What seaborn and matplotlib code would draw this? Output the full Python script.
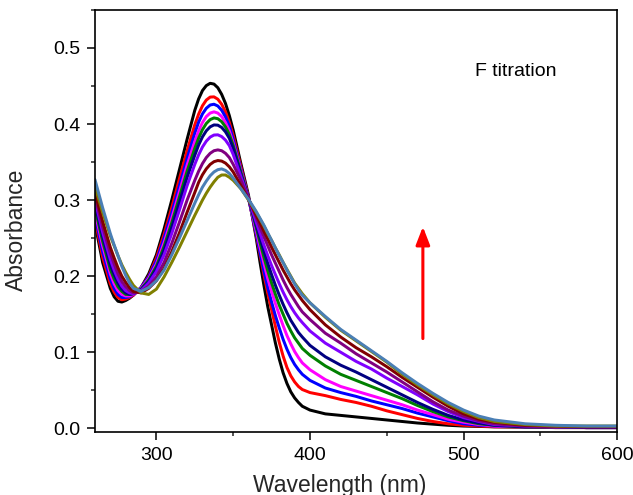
import numpy as np
import pandas as pd
import matplotlib
matplotlib.use("Agg")
import matplotlib.pyplot as plt
import seaborn as sns
from matplotlib.ticker import MultipleLocator

wavelength = [260, 265, 270, 272.5, 275, 277.5, 280, 282.5, 285, 290, 295, 300, 305, 310, 315, 320,
              325, 327.5, 330, 332.5, 335, 337.5, 340, 342.5, 345, 347.5, 350, 355, 360,
              365, 367.5, 370, 372.5, 375, 377.5, 380, 382.5, 385, 387.5, 390, 392.5, 395, 400,
              410, 420, 430, 440, 450, 460, 470, 480, 490, 500, 510, 520, 540, 560, 580, 600]

abs_black = [0.270, 0.218, 0.184, 0.173, 0.167, 0.166, 0.168, 0.171, 0.175, 0.185, 0.203, 0.228, 0.262, 0.300, 0.340, 0.380,
             0.418, 0.433, 0.444, 0.4505, 0.4535, 0.4525, 0.4477, 0.439, 0.427, 0.411, 0.392, 0.348, 0.306,
             0.250, 0.218, 0.188, 0.160, 0.136, 0.112, 0.091, 0.073, 0.059, 0.048, 0.040, 0.034, 0.029, 0.024,
             0.019, 0.017, 0.015, 0.013, 0.011, 0.009, 0.007, 0.0055, 0.004, 0.003, 0.0025, 0.002, 0.0015, 0.001, 0.001, 0.001]
abs_red = [0.275, 0.225, 0.190, 0.179, 0.172, 0.169, 0.170, 0.172, 0.175, 0.185, 0.200, 0.224, 0.255, 0.290, 0.328, 0.365,
           0.399, 0.413, 0.424, 0.4315, 0.4354, 0.4357, 0.4326, 0.426, 0.416, 0.402, 0.385, 0.344, 0.303,
           0.254, 0.228, 0.202, 0.178, 0.156, 0.134, 0.113, 0.095, 0.080, 0.069, 0.061, 0.055, 0.051, 0.047,
           0.043, 0.038, 0.034, 0.029, 0.023, 0.018, 0.013, 0.009, 0.006, 0.004, 0.003, 0.002, 0.002, 0.001, 0.001, 0.001]
abs_blue = [0.280, 0.232, 0.196, 0.184, 0.176, 0.172, 0.172, 0.173, 0.176, 0.185, 0.199, 0.220, 0.250, 0.283, 0.319, 0.355,
            0.388, 0.4025, 0.4133, 0.4207, 0.425, 0.426, 0.4237, 0.4181, 0.4094, 0.3973, 0.380, 0.341, 0.302,
            0.256, 0.231, 0.207, 0.185, 0.166, 0.148, 0.132, 0.117, 0.104, 0.093, 0.084, 0.077, 0.071, 0.063,
            0.053, 0.047, 0.042, 0.036, 0.031, 0.026, 0.020, 0.015, 0.010, 0.006, 0.004, 0.003, 0.002, 0.002, 0.001, 0.001]
abs_magenta = [0.285, 0.240, 0.203, 0.190, 0.181, 0.176, 0.174, 0.174, 0.176, 0.184, 0.197, 0.216, 0.244, 0.276, 0.311, 0.346,
               0.377, 0.391, 0.402, 0.4098, 0.4144, 0.416, 0.4144, 0.4098, 0.402, 0.391, 0.375, 0.339, 0.302,
               0.260, 0.238, 0.217, 0.197, 0.180, 0.164, 0.149, 0.135, 0.122, 0.111, 0.101, 0.093, 0.086, 0.077,
               0.064, 0.055, 0.049, 0.043, 0.037, 0.031, 0.024, 0.018, 0.012, 0.008, 0.005, 0.003, 0.002, 0.002, 0.001, 0.001]
abs_green = [0.290, 0.246, 0.209, 0.196, 0.186, 0.180, 0.176, 0.176, 0.177, 0.183, 0.195, 0.213, 0.239, 0.270, 0.304, 0.338,
             0.368, 0.3815, 0.3926, 0.4007, 0.4058, 0.408, 0.407, 0.4031, 0.3962, 0.3863, 0.372, 0.337, 0.302,
             0.264, 0.244, 0.225, 0.207, 0.191, 0.176, 0.162, 0.150, 0.138, 0.128, 0.119, 0.112, 0.105, 0.096,
             0.082, 0.071, 0.063, 0.055, 0.047, 0.039, 0.030, 0.022, 0.015, 0.010, 0.006, 0.004, 0.002, 0.002, 0.001, 0.001]
abs_navy = [0.295, 0.252, 0.215, 0.202, 0.191, 0.183, 0.178, 0.176, 0.177, 0.182, 0.193, 0.210, 0.234, 0.264, 0.297, 0.330,
            0.359, 0.3724, 0.3831, 0.3911, 0.3963, 0.3988, 0.3985, 0.3955, 0.3897, 0.3812, 0.368, 0.334, 0.302,
            0.267, 0.250, 0.233, 0.217, 0.202, 0.188, 0.175, 0.163, 0.152, 0.142, 0.134, 0.126, 0.120, 0.109,
            0.094, 0.083, 0.074, 0.064, 0.054, 0.044, 0.034, 0.025, 0.017, 0.011, 0.007, 0.004, 0.002, 0.002, 0.001, 0.001]
abs_violet = [0.300, 0.258, 0.222, 0.208, 0.196, 0.187, 0.181, 0.178, 0.177, 0.181, 0.191, 0.206, 0.228, 0.256, 0.287, 0.319,
              0.347, 0.3595, 0.3698, 0.3775, 0.3828, 0.3855, 0.3858, 0.3835, 0.3788, 0.3716, 0.360, 0.331, 0.302,
              0.271, 0.256, 0.241, 0.227, 0.214, 0.202, 0.190, 0.179, 0.169, 0.160, 0.152, 0.145, 0.139, 0.128,
              0.112, 0.100, 0.088, 0.078, 0.066, 0.055, 0.044, 0.032, 0.022, 0.014, 0.009, 0.005, 0.003, 0.002, 0.002, 0.002]
abs_purple = [0.305, 0.265, 0.230, 0.216, 0.203, 0.193, 0.186, 0.181, 0.178, 0.180, 0.187, 0.199, 0.218, 0.243, 0.271, 0.300,
              0.326, 0.3379, 0.348, 0.3559, 0.3615, 0.3649, 0.366, 0.3649, 0.3615, 0.3559, 0.347, 0.326, 0.302,
              0.277, 0.264, 0.252, 0.240, 0.228, 0.217, 0.206, 0.195, 0.185, 0.176, 0.168, 0.160, 0.153, 0.143,
              0.125, 0.112, 0.098, 0.086, 0.074, 0.061, 0.048, 0.035, 0.024, 0.016, 0.010, 0.006, 0.003, 0.002, 0.002, 0.002]
abs_darkred = [0.310, 0.272, 0.238, 0.224, 0.211, 0.200, 0.192, 0.185, 0.180, 0.178, 0.184, 0.194, 0.210, 0.232, 0.257, 0.284,
               0.310, 0.3233, 0.3333, 0.3411, 0.3469, 0.3505, 0.352, 0.3513, 0.3486, 0.3437, 0.337, 0.319, 0.301,
               0.280, 0.270, 0.259, 0.249, 0.238, 0.228, 0.218, 0.208, 0.199, 0.190, 0.182, 0.175, 0.168, 0.156,
               0.136, 0.120, 0.106, 0.094, 0.081, 0.067, 0.054, 0.041, 0.029, 0.019, 0.012, 0.008, 0.004, 0.003, 0.002, 0.002]
abs_olive = [0.318, 0.284, 0.253, 0.240, 0.227, 0.215, 0.205, 0.196, 0.188, 0.178, 0.176, 0.183, 0.199, 0.218, 0.238, 0.259,
             0.280, 0.290, 0.300, 0.309, 0.317, 0.324, 0.330, 0.333, 0.333, 0.330, 0.326, 0.315, 0.300,
             0.284, 0.275, 0.266, 0.256, 0.247, 0.237, 0.228, 0.218, 0.209, 0.200, 0.191, 0.184, 0.177, 0.165,
             0.146, 0.129, 0.115, 0.101, 0.087, 0.071, 0.057, 0.044, 0.032, 0.022, 0.014, 0.009, 0.005, 0.003, 0.003, 0.003]
abs_steel = [0.327, 0.290, 0.256, 0.241, 0.227, 0.213, 0.201, 0.191, 0.184, 0.180, 0.185, 0.194, 0.208, 0.228, 0.250, 0.273,
             0.296, 0.307, 0.317, 0.325, 0.332, 0.337, 0.340, 0.341, 0.339, 0.335, 0.329, 0.315, 0.301,
             0.285, 0.276, 0.267, 0.257, 0.247, 0.237, 0.227, 0.218, 0.208, 0.199, 0.190, 0.182, 0.175, 0.165,
             0.147, 0.130, 0.116, 0.102, 0.088, 0.073, 0.059, 0.046, 0.034, 0.024, 0.016, 0.011, 0.006, 0.004, 0.003, 0.003]

series_names = ["0", "1", "2", "3", "4", "5", "6", "7", "8", "9", "10"]
series_values = [abs_black, abs_red, abs_blue, abs_magenta, abs_green, abs_navy,
                 abs_violet, abs_purple, abs_darkred, abs_olive, abs_steel]
series_colors = ["#000000", "#ff0000", "#0000ff", "#ff00ff", "#008000", "#000080",
                 "#8000ff", "#800080", "#800000", "#808000", "#4a7fb5"]

x_ticks = [300, 400, 500, 600]
y_ticks = [0.0, 0.1, 0.2, 0.3, 0.4, 0.5]

frames = []
for name, vals in zip(series_names, series_values):
    frames.append(pd.DataFrame({"wavelength": wavelength, "absorbance": vals, "sample": name}))
df = pd.concat(frames, ignore_index=True)

sns.set_theme(style="ticks")
plt.rcParams["font.family"] = ["Liberation Sans", "DejaVu Sans"]

fig = plt.figure(figsize=(6.33, 4.95), dpi=100)
ax = fig.add_axes([0.150, 0.127, 0.825, 0.853])

sns.lineplot(data=df, x="wavelength", y="absorbance", hue="sample",
             hue_order=series_names, palette=series_colors, linewidth=2.15,
             legend=False, sort=False, ax=ax,
             solid_joinstyle="round", solid_capstyle="round")

ax.set_xlim(260, 600)
ax.set_ylim(-0.005, 0.55)
ax.set_xticks(x_ticks)
ax.set_yticks(y_ticks)
ax.set_xticklabels([str(t) for t in x_ticks])
ax.set_yticklabels([f"{t:.1f}" for t in y_ticks])
ax.xaxis.set_minor_locator(MultipleLocator(50))
ax.yaxis.set_minor_locator(MultipleLocator(0.05))
ax.tick_params(axis="both", which="major", direction="out", length=5.5, width=1.1,
               labelsize=14, colors="#000000", pad=5)
ax.tick_params(axis="both", which="minor", direction="out", length=3, width=1.1)
ax.tick_params(axis="y", which="both", right=False)
ax.tick_params(axis="x", which="both", top=False)
for side in ["left", "bottom", "top", "right"]:
    ax.spines[side].set_visible(True)
    ax.spines[side].set_linewidth(1.2)
    ax.spines[side].set_color("#000000")

ax.set_xlabel("Wavelength (nm)", fontsize=16.5)
ax.set_ylabel("Absorbance", fontsize=16.5)
ax.xaxis.set_label_coords(0.469, -0.098)
ax.yaxis.set_label_coords(-0.128, 0.479)

ax.text(0.728, 0.855, "F titration", transform=ax.transAxes, fontsize=14,
        ha="left", va="center", color="#000000")

ax.annotate("", xy=(473.5, 0.265), xytext=(473.5, 0.118),
            arrowprops=dict(arrowstyle="-|>,head_width=0.35,head_length=0.9",
                            color="#ff0000", lw=2.2, shrinkA=0, shrinkB=0))

fig.savefig("out.png", dpi=100, facecolor="white")
